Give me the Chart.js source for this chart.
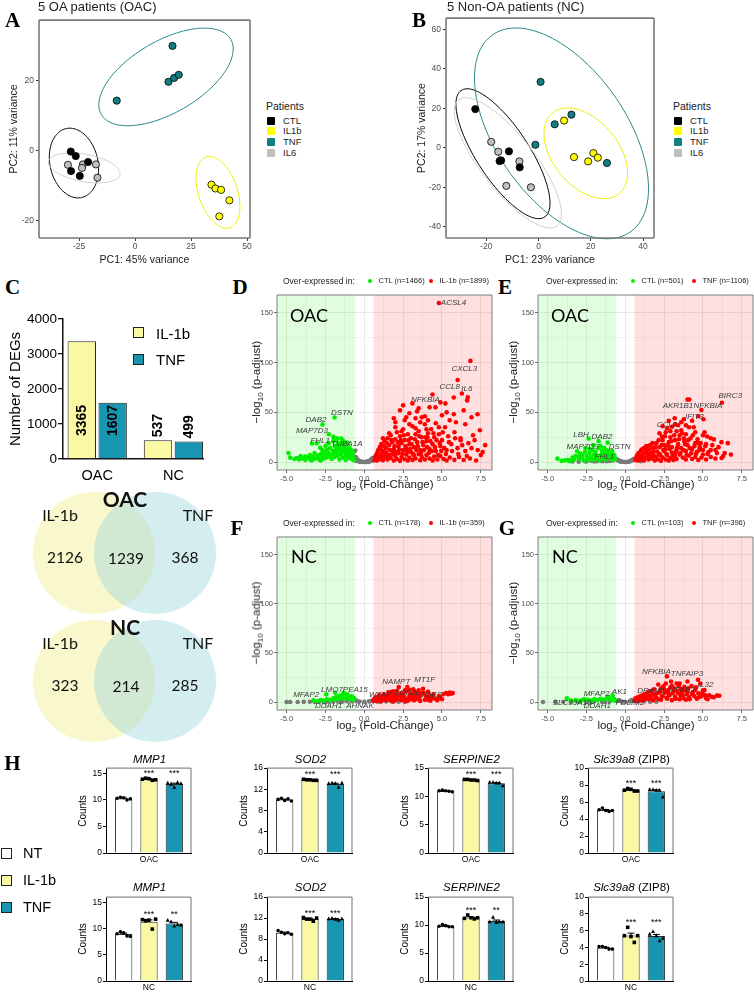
<!DOCTYPE html>
<html>
<head>
<meta charset="utf-8">
<script src="https://cdn.jsdelivr.net/npm/chart.js@4.4.1/dist/chart.umd.min.js"></script>
<style>
body { margin: 0; background: #fff; }
#fig { position: relative; width: 754px; height: 992px; overflow: hidden; font-family: "Liberation Sans", Arial, sans-serif; color: #111; }
#fig canvas { position: absolute; }
.t { position: absolute; white-space: nowrap; line-height: 1; }
.sw { position: absolute; box-sizing: border-box; }
</style>
</head>
<body>
<div id="fig"></div>
<script>
// ---------- data ----------
// PCA (panel A / B)
const pcaGroups = ['CTL', 'IL1b', 'TNF', 'IL6'];
const pcaFill = ['#000000', '#ffff00', '#117f80', '#bfbfbf'];
const pcaLine = ['#000000', '#eeee00', '#2a8a8a', '#cfcfcf'];
const oacCTL = [[-28.7, -0.3], [-26.5, -1.6], [-21, -3.3], [-28.6, -5.9], [-24.7, -7.3]];
const oacIL1b = [[34.1, -9.8], [35.9, -10.9], [38.4, -11.3], [42.1, -14.3], [37.6, -18.9]];
const oacTNF = [[16.7, 30], [-8.2, 14.3], [14.9, 19.7], [17.4, 20.8], [19.5, 21.7]];
const oacIL6 = [[-30, -4.1], [-23.3, -4], [-23.7, -5], [-17.5, -4], [-16.8, -7.8]];
const ncCTL = [[-24.2, 19.6], [-11.3, -1.8], [-14.3, -6.4], [-14.9, -6.7], [-7.2, -9.9]];
const ncIL1b = [[9.8, 13.8], [13.6, -4.7], [21, -2.7], [22.7, -5], [19, -6.9]];
const ncTNF = [[0.8, 33.4], [12.6, 16.8], [6.2, 11.9], [-1.2, 1.5], [26.2, -7.7]];
const ncIL6 = [[-18.1, 3], [-15.4, -2], [-7.3, -6.9], [-12.3, -19.3], [-2.9, -20]];
// ellipses: centre, half width, half height, y-offset at the rightmost point
const oacEllipses = [
  {cx: -27.3, cy: -3.6, hw: 11, hh: 10, tilt: -1.7},
  {cx: 37, cy: -12, hw: 9.8, hh: 10.3, tilt: -4},
  {cx: 13.8, cy: 21.1, hw: 30, hh: 14, tilt: 8},
  {cx: -22.7, cy: -5, hw: 16, hh: 4.3, tilt: -1.6}
];
const ncEllipses = [
  {cx: -13.6, cy: -3, hw: 18, hh: 32.9, tilt: -25},
  {cx: 18.1, cy: -2.8, hw: 16, hh: 23, tilt: -10},
  {cx: 8.8, cy: 7.3, hw: 33.3, hh: 53.4, tilt: -28},
  {cx: -11.7, cy: -7.6, hw: 20.5, hh: 33, tilt: -26}
];

// panel C
const degGroups = ['OAC', 'NC'];
const degIL1b = [3365, 537];
const degTNF = [1607, 499];
const degTicks = [0, 1000, 2000, 3000, 4000];
const vennSets = ['IL-1b', 'TNF'];
const vennOAC = [2126, 1239, 368];
const vennNC = [323, 214, 285];

// volcano plots
const fcCut = 0.585;
const volcXTicks = [-5, -3.75, -2.5, -1.25, 0, 1.25, 2.5, 3.75, 5, 6.25, 7.5];
const volcYTicks = [0, 25, 50, 75, 100, 125, 150];
const nD = [1466, 1899], nE = [501, 1106], nF = [178, 359], nG = [103, 396];

const dGreen = [[-1.91,44.8],[-2.69,37.7],[-2.28,28],[-1.99,25.3],[-3.37,18.6],[-3.06,18.9],[-1.8,22],[-1.48,23.6],[-2.84,14.5],[-4.88,9],[-4.77,4.4],[-4.34,4.1],[-3.91,3.4],[-1.35,21],[-1.1,19.5],[-4.5,3],[-4.2,2.5],[-4,3.8],[-3.8,2.2],[-3.6,4.5],[-3.5,3],[-3.3,5.5],[-3.2,3.2],[-3,6.5],[-3,4],[-2.9,2.4],[-2.8,8],[-2.7,5],[-2.6,10],[-2.6,3.5],[-2.5,7],[-2.4,12],[-2.4,4.5],[-2.3,9],[-2.2,6],[-2.2,14],[-2.1,3.2],[-2,11],[-2,8],[-1.9,16],[-1.9,5],[-1.8,13],[-1.8,9.5],[-1.7,18],[-1.7,6.5],[-1.6,11],[-1.6,15],[-1.5,8],[-1.5,19],[-1.45,13],[-1.4,4.5],[-1.3,10],[-1.3,16],[-1.2,7],[-1.2,13],[-1.1,9],[-1.1,4],[-1,11],[-1,6],[-0.9,8],[-0.9,3.5],[-0.8,6],[-0.75,2.5],[-0.7,4],[-0.65,1.8],[-1.6,2.5],[-2.8,1.5],[-3.4,1.6],[-1.2,2],
  [-2.5,16],[-2.3,19],[-2,21],[-1.75,24],[-1.4,18],[-1,15],[-0.85,12],[-0.7,9],[-3.2,9],[-3.5,7],[-3.8,5.5],[-4.1,6],[-2.7,12],[-1.25,4.5],[-0.95,14]];
const dGray = [[-0.58,11.5],[-0.55,5],[-0.5,3.5],[-0.45,2.5],[-0.4,1.8],[-0.35,1.2],[-0.3,0.8],[-0.25,0.5],[-0.2,0.3],[-0.15,0.2],[-0.1,0.1],[0,0],[0.1,0.1],[0.15,0.2],[0.2,0.4],[0.25,0.6],[0.3,0.9],[0.35,1.3],[0.4,1.9],[0.45,2.6],[0.5,3.4],[0.55,4.2],[-0.52,1],[0.5,1],[-0.3,0.2],[0.3,0.2]];
const dRed = [[0.65,2],[0.7,4.5],[0.8,1.5],[0.9,6],[1,3],[1.1,8],[1.2,1.8],[1.3,5],[1.4,9.5],[1.5,2.5],[1.6,7],[1.7,4],[1.8,11],[1.9,1.5],[2,6],[2.1,3],[2.2,9],[2.3,1.2],[2.4,5],[2.5,12],[2.6,2.8],[2.7,7.5],[2.8,1.5],[2.9,4.5],[3,10],[3.1,2],[3.2,6.5],[3.3,3.5],[3.5,8],[3.6,1.8],[3.7,5],[3.9,2.6],[4,7],[4.2,3.5],[4.4,1.5],[4.5,5.5],[4.7,2.5],[4.9,6],[5.1,3],[5.3,1.5],[5.5,4.5],[5.8,2.2],[6.1,5],[6.4,2],[6.8,3.5],[7.2,1.5],[7.5,7],
  [0.9,12],[1,15],[1.1,18],[1.2,11],[1.3,21],[1.4,14],[1.5,24],[1.6,17],[1.7,27],[1.8,20],[1.9,13],[2,23],[2.1,30],[2.2,16],[2.3,26],[2.4,19],[2.5,33],[2.6,22],[2.7,14],[2.8,28],[2.9,18],[3,24],[3.1,36],[3.2,15],[3.3,28],[3.4,20],[3.5,31],[3.6,12],[3.7,25],[3.8,17],[3.9,38],[4,21],[4.1,29],[4.2,13],[4.3,33],[4.4,18],[4.5,25],[4.6,11],[4.8,28],[4.9,16],[5,22],[5.2,35],[5.3,12],[5.4,26],[5.6,18],[5.8,30],[6,14],[6.2,24],[6.5,11],[6.7,19],[7,27],[7.3,12],
  [0.75,7],[0.85,10],[0.95,2.5],[1.05,13],[1.15,5],[1.25,16],[1.35,7.5],[1.45,19],[1.55,4.5],[1.65,12],[1.75,22],[1.85,8],[1.95,16],[2.05,10],[2.15,20],[2.25,12.5],[2.35,22],[2.45,8.5],[2.55,27],[2.65,16],[2.75,10],[2.85,22],[2.95,13],[3.05,18],[3.15,8],[3.25,23],[3.35,12],[3.45,16],[3.55,26],[3.65,9],[3.75,20],[3.85,12],[3.95,25],[4.05,15],[4.15,9],[4.25,21],[4.35,11],[4.45,29],[4.55,15],[4.65,22],[4.75,7],[4.85,19],[4.95,11],[5.05,30],[5.15,14],[5.25,8],[5.45,20],[5.65,11],[5.85,24],[6.05,8],[6.3,17],[6.6,6],[6.9,14],[7.1,22],[1.2,24],[1.6,29],[2,35],[2.4,31],[2.9,38],[3.3,34],[3.7,45],[4.1,42],[4.6,39],[5.3,50],[5.9,40],[6.4,52],[6.9,45],[2.6,42],[3.5,54],[4.9,60],[4,33],[1.9,44],
  [2.3,52],[2.5,57],[2.9,49],[3.1,59],[3.3,44],[3.4,51],[3.6,40],[3.9,46],[4.2,55],[4.39,67.9],[4.58,55],[4.8,35],[5.22,59],[5.5,42],[5.76,64.9],[5.76,48],[6.01,82.5],[6.28,69],[6.62,62],[6.66,65],[6.83,101.7],[7.29,48],[7.44,32],[7.78,17],[7.62,10],[6.2,21.9],[4.07,25],[4.8,160],[2,40],[2.7,45],[5,47],[6.5,38]];
const dLabels = [['ACSL4',5.74,160],['CXCL3',6.44,94.3],['CCL8',5.5,75.8],['IL6',6.6,74],['NFKBIA',3.93,62.4],['DSTN',-1.44,49.5],['DAB2',-3.11,42.8],['MAP7D3',-3.37,31],['FHL1',-2.84,21.4],['TUBA1A',-1.12,18.1]];

const eGreen = [[-4.37,3.4],[-3.9,1.7],[-3.7,2],[-3.5,1.5],[-3.3,2.5],[-3.1,10.8],[-3.2,6],[-3,3],[-2.9,8.5],[-2.8,4.5],[-2.7,2],[-2.57,14.2],[-2.5,6],[-2.36,23.6],[-2.4,3.5],[-2.3,9],[-2.2,5],[-2.1,12],[-2,2.5],[-2,7.5],[-1.9,10],[-1.8,4],[-1.72,21],[-1.7,14],[-1.6,6.5],[-1.52,7],[-1.5,11],[-1.4,3.5],[-1.36,14.4],[-1.3,8],[-1.2,5],[-1.14,19.5],[-1.1,11],[-1,6.5],[-0.95,3],[-0.9,9],[-0.8,5],[-0.75,2],[-0.7,7],[-0.65,3.5],[-1.7,1.5],[-2.6,1.2],[-3.6,0.8],[-4.1,1.2],
  [-2.8,7],[-2.6,10],[-2.3,13],[-2.05,17],[-1.9,6],[-1.6,16],[-1.45,9],[-1.25,12],[-1.05,8],[-0.85,11],[-0.72,5],[-3.4,4.5],[-3,5.5],[-2.2,2],[-1.3,2.5]];
const eGray = [[-0.58,3],[-0.5,2.2],[-0.45,1.6],[-0.4,1.2],[-0.35,0.9],[-0.3,0.6],[-0.25,0.4],[-0.2,0.3],[-0.1,0.1],[0,0],[0.1,0.1],[0.2,0.3],[0.25,0.5],[0.3,0.8],[0.35,1.1],[0.4,1.5],[0.45,2],[0.5,2.6],[0.55,3.2],[-1,1],[-1.5,0.8],[-2,0.6],[-2.5,0.5],[-3,0.4],[1,0.8],[-0.8,1.5],[-1.2,0.9],[-3.4,0.6],[-2.6,0.8],[-2.2,1.2],[-1.8,0.9],[-1.4,1.1]];
const eRed = [[0.65,2],[0.7,4],[0.8,1.5],[0.9,5.5],[1,2.5],[1.1,7],[1.2,1.5],[1.3,4.5],[1.4,8.5],[1.5,2.5],[1.6,6],[1.7,3.5],[1.8,10],[1.9,1.5],[2,5.5],[2.1,2.5],[2.2,8],[2.3,1.2],[2.4,4.5],[2.5,11],[2.6,2.5],[2.7,7],[2.8,1.5],[2.9,4],[3,9.5],[3.1,2],[3.2,6],[3.3,3],[3.5,7.5],[3.7,4.5],[3.9,2.5],[4.1,6.5],[4.3,3],[4.5,5],[4.7,2],[4.9,4.5],[5.2,2.5],[5.5,5],[5.8,3.5],
  [1,11],[1.2,14],[1.4,12],[1.6,17],[1.8,14],[2,19],[2.2,15],[2.4,22],[2.5,17],[2.6,13],[2.8,20],[2.9,25],[3,15],[3.2,22],[3.3,12],[3.4,18],[3.5,27],[3.6,14],[3.8,21],[3.9,11],[4,17],[4.2,24],[4.3,13],[4.5,19],[4.6,10],[4.8,15],[5,12],[5.2,18],[5.3,8],[5.5,12],[5.7,22.8],[6.19,20],[5.9,9],[6.3,6],
  [0.75,6.5],[0.85,9],[0.95,3],[1.05,12.5],[1.15,5],[1.25,9.5],[1.35,16],[1.45,6],[1.55,13],[1.65,9],[1.75,19],[1.85,6],[1.95,15],[2.05,10.5],[2.15,22],[2.25,7],[2.35,17],[2.45,12],[2.55,26],[2.65,8],[2.75,17],[2.85,13],[2.95,21],[3.05,6],[3.15,27],[3.25,10],[3.35,15],[3.45,23],[3.55,9],[3.65,29],[3.75,12],[3.85,18],[3.95,7],[4.05,22],[4.15,14],[4.25,9],[4.35,27],[4.45,16],[4.55,8],[4.65,23],[4.75,12],[4.85,19],[5,7.5],[5.15,16],[5.35,10],[5.6,17],[5.8,12],[6,15],[6.4,9],[6.6,19],[6.2,4],[2.2,29],[2.7,34],[3.3,31],[3.9,37],[4.4,35],[5,27],[5.5,24],[4.7,46],[3.6,40],[3.2,38],[2.4,36],
  [6.22,59.6],[4.12,62.9],[4,62.9],[4.9,52.3],[5.03,43],[4.3,41.6],[3.77,43],[3.18,44],[2.8,41.6],[3,35.5],[3.6,32],[3.77,24],[2.36,25.7],[6.8,7.5],[4.66,19],[5.27,25.7],[2.6,30],[3.4,37],[4.5,30],[2.9,31],[4.1,35],[5.1,30],[3.9,28]];
const eLabels = [['BIRC3',6.76,66.7],['AKR1B1',3.39,56.6],['NFKBIA',5.32,56.6],['IFIT3',4.44,45.5],['CCL2',2.68,37.5],['LBH',-2.85,27.7],['DAB2',-1.5,25.3],['MAP7D3',-2.75,15.2],['DSTN',-0.36,15.2],['FHL1',-1.35,5]];

const fGreen = [[-2.45,7.9],[-1.87,9.6],[-1.33,9.6],[-1.16,6.9],[-3.27,1.8],[-3,1],[-2.8,2.2],[-2.6,1.5],[-2.4,3],[-2.2,2],[-2,4],[-1.9,2.5],[-1.8,5.5],[-1.7,3],[-1.6,6.5],[-1.5,4],[-1.4,7.5],[-1.3,5],[-1.2,3.5],[-1.1,8],[-1,5.5],[-0.9,3],[-0.8,6],[-0.7,2.5],[-0.65,4]];
const fGray = [[-5,0.2],[-4.77,0.2],[-4.29,0.2],[-3.9,0.3],[-3.5,0.4],[-3.2,0.3],[-2.9,0.5],[-2.6,0.4],[-2.3,0.6],[-2,0.5],[-1.7,0.7],[-1.4,0.6],[-1.1,0.8],[-0.8,0.9],[-0.5,1.2],[-0.3,0.7],[0,0.3],[0.3,0.8],[0.5,1.4],[0.8,1],[1.1,0.8],[1.4,0.7],[1.8,0.5],[2.2,0.4],[2.6,0.3],[-0.55,2],[0.55,2.2],[-2.5,-0.2],[-1.5,0.2],[1,0.2]];
const fRed = [[0.6,1.5],[0.7,3],[0.8,1],[0.9,4],[1,2],[1.03,6],[1.1,1.2],[1.2,3.5],[1.3,5],[1.4,2],[1.5,7],[1.6,3],[1.7,1.5],[1.8,5],[1.9,8],[2,2.5],[2.1,4.5],[2.22,15.3],[2.3,6.5],[2.4,2],[2.5,9],[2.6,4],[2.62,12],[2.77,15.3],[2.8,1.5],[2.9,6],[3,3],[3.1,8],[3.2,2],[3.3,5],[3.4,10],[3.5,3.5],[3.6,7],[3.78,13.6],[3.82,9.3],[3.9,2.5],[4,5.5],[4.06,2.6],[4.2,7],[4.3,3.5],[4.45,8],[4.7,2],[4.9,4.5],[5.1,8],[5.27,9.3],[5.5,9.8],[3.2,11],[2.9,12.5],[1.7,10],[2.1,11.5],[3.5,12],[4.1,10.5],
  [0.65,3.5],[0.75,5],[0.85,2.5],[0.95,7],[1.15,4],[1.25,8],[1.35,3],[1.45,5.5],[1.55,10],[1.65,6],[1.75,3.5],[1.85,11],[1.95,5.5],[2.05,7.5],[2.15,3],[2.35,9],[2.45,4.5],[2.55,6],[2.7,11],[2.85,3.5],[2.95,8.5],[3.05,5],[3.15,13],[3.25,7],[3.35,3],[3.45,7.5],[3.55,5],[3.7,9],[3.95,6.5],[4.15,4],[4.35,6],[4.55,3.5],[4.8,6],[5,3],[5.6,8.5],[5.7,9.3],[5.4,8],[4.25,1.5],[3.6,1.2],[2.7,1],[1.9,0.8]];
const fLabels = [['NAMPT',2.06,20.4],['MT1F',3.89,22.9],['MFAP2',-3.74,7.9],['LMO7',-2.08,12.6],['PEA15',-0.58,12.6],['DDAH1',-2.3,-3.4],['AHNAK',-0.28,-3.4],['WTAP',1.03,7.9],['SOD2',2.62,9.6],['PTGES',4.14,7.9]];

const gGreen = [[-0.82,6.8],[-1.1,5.5],[-2.65,2.8],[-3.76,3.8],[-3.5,1.5],[-3.2,2.2],[-3,1],[-2.8,1.8],[-2.4,2.5],[-2.2,1.5],[-2,3],[-1.8,2],[-1.6,3.5],[-1.4,2.5],[-1.2,4],[-1,3],[-0.9,2],[-0.7,3.2],[-0.65,1.5]];
const gGray = [[-5.3,0.2],[-4.5,0.3],[-4,0.4],[-3.5,0.3],[-3,0.5],[-2.5,0.4],[-2,0.6],[-1.5,0.5],[-1,0.8],[-0.5,1.2],[-0.2,0.5],[0,0.3],[0.3,0.8],[0.5,1.5],[0.8,0.9],[1.2,0.6],[1.6,0.5],[2,0.4],[-0.4,2],[0.4,2.2],[-2.2,-0.2],[-1.3,0.2]];
const gRed = [[0.6,1.5],[0.7,3],[0.8,5],[0.9,1.5],[1,4],[1.1,7],[1.2,2.5],[1.3,5.5],[1.4,9],[1.5,3],[1.6,6.5],[1.67,11],[1.8,2],[1.9,8],[2,4.5],[2.12,17.9],[2.2,10],[2.3,2.5],[2.4,6],[2.5,13],[2.61,18.9],[2.68,26.2],[2.7,3.5],[2.8,8.5],[2.9,15],[3,2],[3.1,11],[3.2,5.5],[3.3,18.9],[3.4,9],[3.5,3],[3.6,13],[3.7,6.5],[3.8,15.5],[3.9,2.5],[4,10],[4.1,5],[4.26,16.3],[4.3,8],[4.5,12.5],[4.6,3.5],[4.68,22.8],[4.7,9],[4.83,18.8],[4.9,6],[5,12],[5.09,12.2],[5.2,4],[5.4,7],[5.57,5.4],[5.9,6.8],[3.5,19],[2.3,14],[4,21],[3,16.5],
  [0.65,4],[0.75,1.5],[0.85,3],[0.95,6],[1.05,2],[1.15,4.5],[1.25,8],[1.35,3.5],[1.45,6],[1.55,11],[1.65,4],[1.75,7.5],[1.85,13],[1.95,5.5],[2.05,9],[2.15,3],[2.25,12],[2.35,6.5],[2.45,16],[2.55,9.5],[2.65,4.5],[2.75,12],[2.85,7],[2.95,21],[3.05,9],[3.15,14],[3.25,3.5],[3.35,11],[3.45,16],[3.55,7],[3.65,10],[3.75,4],[3.85,12],[3.95,8],[4.05,14],[4.15,3],[4.35,10],[4.45,6],[4.55,15],[4.75,5],[4.95,9],[5.15,7],[5.3,3],[5.7,5],[6.05,6.5]];
const gLabels = [['NFKBIA',2,30.6],['TNFAIP3',3.97,28.9],['IL32',5.17,18],['DRAM1',1.67,11.2],['NFKB2',3.65,12.6],['MFAP2',-1.84,8.6],['AK1',-0.38,10.2],['SLC39A10',-3.43,-1],['DDAH1',-1.8,-4],['PDLIM2',0.3,-0.5]];

// panel H: 5 patients per condition (NT, IL-1b, TNF)
const hGroups = ['NT', 'IL-1b', 'TNF'];
const hColors = ['#ffffff', '#fbf8a4', '#1896b1'];
const mmp1OAC = [[10.3, 10.5, 10.4, 10.0, 10.2], [13.9, 14.1, 14.0, 13.7, 13.8], [13.2, 13.0, 12.4, 13.3, 13.1]];
const sod2OAC = [[10.1, 10.3, 9.9, 10.2, 9.8], [13.9, 13.8, 13.8, 13.7, 13.7], [13.1, 13.2, 13.1, 12.4, 13.2]];
const serpine2OAC = [[11.0, 11.1, 11.0, 10.9, 10.8], [13.0, 13.0, 12.9, 12.9, 12.8], [12.5, 12.5, 12.4, 12.4, 11.9]];
const slc39a8OAC = [[5.1, 5.3, 5.0, 4.9, 5.0], [7.4, 7.6, 7.5, 7.3, 7.3], [7.5, 7.5, 7.4, 7.4, 6.6]];
const mmp1NC = [[9.0, 9.4, 9.2, 8.6, 8.5], [11.7, 11.5, 11.6, 9.9, 11.8], [11.6, 11.3, 10.5, 10.8, 10.7]];
const sod2NC = [[9.6, 9.3, 9.0, 9.2, 8.9], [12.1, 11.8, 11.8, 11.4, 12.0], [11.9, 12.0, 11.8, 11.6, 11.9]];
const serpine2NC = [[9.8, 10.1, 9.9, 9.7, 9.7], [11.2, 11.8, 11.3, 11.1, 11.3], [10.6, 11.4, 10.5, 10.6, 10.6]];
const slc39a8NC = [[4.1, 4.1, 4.0, 3.8, 3.8], [5.4, 6.4, 5.3, 4.6, 5.4], [5.6, 5.9, 5.4, 4.8, 5.1]];
const sigOAC = ['', '***', '***'];
const sigMmp1NC = ['', '***', '**'];
const sigSod2NC = ['', '***', '***'];
const sigSerpine2NC = ['', '***', '**'];
const sigSlc39a8NC = ['', '***', '***'];

// ---------- helpers ----------
const SANS = '"Liberation Sans", Arial, sans-serif';
Chart.defaults.font.family = SANS;
Chart.defaults.animation = false;
Chart.defaults.responsive = false;
Chart.defaults.events = [];
Chart.defaults.layout.autoPadding = false;
Chart.defaults.plugins.legend.display = false;
Chart.defaults.plugins.tooltip.enabled = false;

const fig = document.getElementById('fig');

function canvasAt(box, m) {
  const c = document.createElement('canvas');
  const w = box.r - box.l + m.l + m.r, h = box.b - box.t + m.t + m.b;
  c.width = w; c.height = h;
  c.style.left = (box.l - m.l) + 'px';
  c.style.top = (box.t - m.t) + 'px';
  c.style.width = w + 'px';
  c.style.height = h + 'px';
  fig.appendChild(c);
  return c;
}

function txt(html, x, y, css, mode) {
  const d = document.createElement('div');
  d.className = 't';
  d.innerHTML = html;
  if (css) d.style.cssText = css;
  d.style.left = x + 'px';
  d.style.top = y + 'px';
  const tf = {c: 'translate(-50%,-50%)', l: 'translate(0,-50%)', r: 'translate(-100%,-50%)', v: 'translate(-50%,-50%) rotate(-90deg)'};
  d.style.transform = tf[mode || 'c'];
  fig.appendChild(d);
  return d;
}

function swatch(x, y, w, h, fill, border, round) {
  const d = document.createElement('div');
  d.className = 'sw';
  d.style.cssText = `left:${x}px;top:${y}px;width:${w}px;height:${h}px;background:${fill};border:${border};border-radius:${round || 0}`;
  fig.appendChild(d);
}

const toXY = arr => arr.map(p => ({x: p[0], y: p[1]}));

function frame(color, width, sides) {
  return {
    id: 'frame',
    afterDatasetsDraw(chart) {
      const a = chart.chartArea, ctx = chart.ctx;
      ctx.save();
      ctx.strokeStyle = color; ctx.lineWidth = width;
      ctx.beginPath();
      if (sides.includes('t')) { ctx.moveTo(a.left, a.top); ctx.lineTo(a.right, a.top); }
      if (sides.includes('r')) { ctx.moveTo(a.right, a.top); ctx.lineTo(a.right, a.bottom); }
      if (sides.includes('b')) { ctx.moveTo(a.left, a.bottom); ctx.lineTo(a.right, a.bottom); }
      if (sides.includes('l')) { ctx.moveTo(a.left, a.top); ctx.lineTo(a.left, a.bottom); }
      ctx.stroke();
      ctx.restore();
    }
  };
}

function ellipsePlugin(list) {
  return {
    id: 'ellipses',
    beforeDatasetsDraw(chart) {
      const xs = chart.scales.x, ys = chart.scales.y, ctx = chart.ctx;
      ctx.save();
      ctx.lineWidth = 1;
      list.forEach((e, i) => {
        const s = Math.sqrt(e.hh * e.hh - e.tilt * e.tilt);
        ctx.strokeStyle = pcaLine[i];
        ctx.beginPath();
        for (let k = 0; k <= 120; k++) {
          const t = k / 120 * 2 * Math.PI;
          const px = xs.getPixelForValue(e.cx + e.hw * Math.cos(t));
          const py = ys.getPixelForValue(e.cy + e.tilt * Math.cos(t) + s * Math.sin(t));
          if (k === 0) ctx.moveTo(px, py); else ctx.lineTo(px, py);
        }
        ctx.stroke();
      });
      ctx.restore();
    }
  };
}

// ---------- A / B : PCA ----------
function pcaChart(box, groups, ellipses, xr, yr, xt, yt) {
  const m = {l: 30, t: 6, r: 10, b: 16};
  const c = canvasAt(box, m);
  new Chart(c, {
    type: 'scatter',
    data: {
      datasets: groups.map((g, i) => ({
        label: pcaGroups[i], data: toXY(g),
        backgroundColor: pcaFill[i], borderColor: '#000', borderWidth: 0.8, pointRadius: 3.6
      }))
    },
    options: {
      layout: {padding: {top: m.t, right: m.r, left: 0, bottom: 0}},
      scales: {
        x: {
          type: 'linear', min: xr[0], max: xr[1],
          afterFit: s => { s.height = m.b; },
          afterBuildTicks: s => { s.ticks = xt.map(v => ({value: v})); },
          ticks: {font: {size: 8.5}, color: '#4d4d4d', padding: 1, maxRotation: 0, autoSkip: false, callback: v => String(v)},
          grid: {drawOnChartArea: false, tickLength: 3, color: '#333'},
          border: {display: false}
        },
        y: {
          type: 'linear', min: yr[0], max: yr[1],
          afterFit: s => { s.width = m.l; },
          afterBuildTicks: s => { s.ticks = yt.map(v => ({value: v})); },
          ticks: {font: {size: 8.5}, color: '#4d4d4d', padding: 2, autoSkip: false, callback: v => String(v)},
          grid: {drawOnChartArea: false, tickLength: 3, color: '#333'},
          border: {display: false}
        }
      }
    },
    plugins: [ellipsePlugin(ellipses), frame('#7a7a7a', 1.6, 'tlrb')]
  });
}

pcaChart({l: 39, t: 19, r: 250, b: 238}, [oacCTL, oacIL1b, oacTNF, oacIL6], oacEllipses,
  [-42.9, 51.3], [-25.1, 37.4], [-25, 0, 25, 50], [-20, 0, 20]);
pcaChart({l: 446, t: 17, r: 654, b: 238}, [ncCTL, ncIL1b, ncTNF, ncIL6], ncEllipses,
  [-35.4, 44.2], [-45.7, 65.7], [-20, 0, 20, 40], [-40, -20, 0, 20, 40, 60]);

// ---------- C : bar chart ----------
(function () {
  const box = {l: 63, t: 318, r: 203, b: 459};
  const m = {l: 50, t: 8, r: 6, b: 26};
  const c = canvasAt(box, m);
  const barLabels = {
    id: 'barLabels',
    afterDatasetsDraw(chart) {
      const ctx = chart.ctx, ys = chart.scales.y;
      ctx.save();
      ctx.font = 'bold 14px ' + SANS;
      ctx.fillStyle = '#000';
      ctx.textBaseline = 'middle';
      chart.data.datasets.forEach((ds, i) => {
        chart.getDatasetMeta(i).data.forEach((el, j) => {
          const v = ds.data[j].y;
          ctx.save();
          if (v > 1000) {
            ctx.translate(el.x, ys.getPixelForValue(1100));
            ctx.rotate(-Math.PI / 2);
            ctx.textAlign = 'center';
          } else {
            ctx.translate(el.x, el.y - 3);
            ctx.rotate(-Math.PI / 2);
            ctx.textAlign = 'left';
          }
          ctx.fillText(String(v), 0, 0);
          ctx.restore();
        });
      });
      ctx.restore();
    }
  };
  new Chart(c, {
    type: 'bar',
    data: {
      datasets: [
        {label: 'IL-1b', data: degIL1b.map((v, i) => ({x: i, y: v})), backgroundColor: '#fbf8a4', borderColor: '#222', borderWidth: 1, categoryPercentage: 0.81, barPercentage: 0.92},
        {label: 'TNF', data: degTNF.map((v, i) => ({x: i, y: v})), backgroundColor: '#1896b1', borderColor: '#222', borderWidth: 1, categoryPercentage: 0.81, barPercentage: 0.92}
      ]
    },
    options: {
      layout: {padding: {top: m.t, right: m.r, left: 0, bottom: 0}},
      scales: {
        x: {
          type: 'linear', min: -0.449, max: 1.388, offset: false,
          afterFit: s => { s.height = m.b; },
          afterBuildTicks: s => { s.ticks = degGroups.map((g, i) => ({value: i})); },
          ticks: {font: {size: 14.5}, color: '#000', padding: 8, maxRotation: 0, autoSkip: false, callback: v => degGroups[v]},
          grid: {display: false, drawTicks: false},
          border: {color: '#111', width: 1.5}
        },
        y: {
          min: 0, max: 4000,
          afterFit: s => { s.width = m.l; },
          afterBuildTicks: s => { s.ticks = degTicks.map(v => ({value: v})); },
          ticks: {font: {size: 13.5}, color: '#000', padding: 1, callback: v => String(v)},
          grid: {drawOnChartArea: false, tickLength: 5, color: '#111', lineWidth: 1.3},
          border: {color: '#111', width: 1.5}
        }
      }
    },
    plugins: [barLabels]
  });
})();

// ---------- C : Venn diagrams ----------
(function () {
  const box = {l: 0, t: 470, r: 240, b: 760};
  const c = canvasAt(box, {l: 0, t: 0, r: 0, b: 0});
  new Chart(c, {
    type: 'scatter',
    data: {
      datasets: [
        {label: vennSets[1], data: [{x: 1, y: 1}, {x: 1, y: 0}], pointRadius: 61, backgroundColor: 'rgba(160,215,220,0.45)', borderWidth: 0, order: 0},
        {label: vennSets[0], data: [{x: 0, y: 1}, {x: 0, y: 0}], pointRadius: 61, backgroundColor: '#f9f7cc', borderWidth: 0, order: 1}
      ]
    },
    options: {
      layout: {padding: 0},
      scales: {
        x: {type: 'linear', min: -1.541, max: 2.393, display: false},
        y: {type: 'linear', min: -0.617, max: 1.648, display: false}
      }
    }
  });
})();

// ---------- D-G : volcano plots ----------
const shade = {
  id: 'shade',
  beforeDatasetsDraw(chart) {
    const xs = chart.scales.x, a = chart.chartArea, ctx = chart.ctx;
    ctx.save();
    const g = xs.getPixelForValue(-fcCut), r = xs.getPixelForValue(fcCut);
    ctx.fillStyle = 'rgba(0,235,0,0.12)';
    ctx.fillRect(a.left, a.top, g - a.left, a.bottom - a.top);
    ctx.fillStyle = 'rgba(255,0,0,0.12)';
    ctx.fillRect(r, a.top, a.right - r, a.bottom - a.top);
    ctx.restore();
  }
};

function geneLabels(list) {
  return {
    id: 'geneLabels',
    afterDatasetsDraw(chart) {
      const xs = chart.scales.x, ys = chart.scales.y, ctx = chart.ctx;
      ctx.save();
      ctx.font = 'italic 8px ' + SANS;
      ctx.fillStyle = '#3a3a3a';
      ctx.textAlign = 'center';
      ctx.textBaseline = 'middle';
      list.forEach(l => ctx.fillText(l[0], xs.getPixelForValue(l[1]), ys.getPixelForValue(l[2])));
      ctx.restore();
    }
  };
}

function volcano(box, green, gray, red, labels) {
  const m = {l: 24, t: 8, r: 4, b: 14};
  const c = canvasAt(box, m);
  const major = (v, step) => Math.abs(v / step - Math.round(v / step)) < 1e-6;
  new Chart(c, {
    type: 'scatter',
    data: {
      datasets: [
        {label: 'up', data: toXY(red), backgroundColor: '#ff0000', pointRadius: 2.3, borderWidth: 0, order: 0},
        {label: 'down', data: toXY(green), backgroundColor: '#00ee00', pointRadius: 2.3, borderWidth: 0, order: 1},
        {label: 'ns', data: toXY(gray), backgroundColor: '#7a7a7a', pointRadius: 2.3, borderWidth: 0, order: 2}
      ]
    },
    options: {
      layout: {padding: {top: m.t, right: m.r, left: 0, bottom: 0}},
      scales: {
        x: {
          type: 'linear', min: -5.62, max: 8.22,
          afterFit: s => { s.height = m.b; },
          afterBuildTicks: s => { s.ticks = volcXTicks.map(v => ({value: v})); },
          ticks: {font: {size: 7.5}, color: '#4d4d4d', padding: 1, maxRotation: 0, autoSkip: false,
            callback: v => major(v, 2.5) ? v.toFixed(1) : ''},
          grid: {
            color: ctx => ctx.tick && major(ctx.tick.value, 2.5) ? '#e4e4e4' : '#f1f1f1',
            tickColor: ctx => ctx.tick && major(ctx.tick.value, 2.5) ? '#444' : 'rgba(0,0,0,0)',
            tickLength: 3, lineWidth: 0.8
          },
          border: {display: false}
        },
        y: {
          type: 'linear', min: -8, max: 168,
          afterFit: s => { s.width = m.l; },
          afterBuildTicks: s => { s.ticks = volcYTicks.map(v => ({value: v})); },
          ticks: {font: {size: 7.5}, color: '#4d4d4d', padding: 1, autoSkip: false,
            callback: v => major(v, 50) ? String(v) : ''},
          grid: {
            color: ctx => ctx.tick && major(ctx.tick.value, 50) ? '#e4e4e4' : '#f1f1f1',
            tickColor: ctx => ctx.tick && major(ctx.tick.value, 50) ? '#444' : 'rgba(0,0,0,0)',
            tickLength: 3, lineWidth: 0.8
          },
          border: {display: false}
        }
      }
    },
    plugins: [shade, geneLabels(labels), frame('#7f7f7f', 1, 'tlrb')]
  });
}

volcano({l: 277, t: 295, r: 492, b: 470}, dGreen, dGray, dRed, dLabels);
volcano({l: 538, t: 295, r: 753, b: 470}, eGreen, eGray, eRed, eLabels);
volcano({l: 277, t: 537, r: 492, b: 710}, fGreen, fGray, fRed, fLabels);
volcano({l: 538, t: 537, r: 753, b: 710}, gGreen, gGray, gRed, gLabels);

// ---------- H : counts bar charts ----------
function drawShape(ctx, kind, x, y, r) {
  ctx.beginPath();
  if (kind === 0) ctx.arc(x, y, r, 0, 2 * Math.PI);
  else if (kind === 1) ctx.rect(x - r, y - r, 2 * r, 2 * r);
  else { ctx.moveTo(x, y - r * 1.2); ctx.lineTo(x + r * 1.1, y + r * 0.9); ctx.lineTo(x - r * 1.1, y + r * 0.9); ctx.closePath(); }
  ctx.fill();
}

function dotsPlugin(dots, means, sems, sig) {
  return {
    id: 'dots',
    afterDatasetsDraw(chart) {
      const xs = chart.scales.x, ys = chart.scales.y, ctx = chart.ctx;
      ctx.save();
      ctx.fillStyle = '#000'; ctx.strokeStyle = '#000'; ctx.lineWidth = 1;
      let top = 0;
      dots.forEach((d, i) => {
        const cx = xs.getPixelForValue(i);
        const y0 = ys.getPixelForValue(means[i]), y1 = ys.getPixelForValue(means[i] + sems[i]);
        ctx.beginPath();
        ctx.moveTo(cx, y0); ctx.lineTo(cx, y1);
        ctx.moveTo(cx - 3.5, y1); ctx.lineTo(cx + 3.5, y1);
        ctx.stroke();
        d.forEach((v, j) => drawShape(ctx, i, cx + (j - 2) * 3.3, ys.getPixelForValue(v), 1.8));
        if (i > 0) top = Math.max(top, ...d, means[i] + sems[i]);
      });
      ctx.font = '9px ' + SANS;
      ctx.textAlign = 'center';
      ctx.textBaseline = 'alphabetic';
      const sy = ys.getPixelForValue(top) - 2;
      sig.forEach((s, i) => { if (s) ctx.fillText(s, xs.getPixelForValue(i), sy); });
      ctx.restore();
    }
  };
}

function hChart(box, dots, sig, yMax, yTicks, group) {
  const m = {l: 20, t: 6, r: 4, b: 14};
  const c = canvasAt(box, m);
  const means = dots.map(d => d.reduce((s, v) => s + v, 0) / d.length);
  const sems = dots.map((d, i) => Math.sqrt(d.reduce((s, v) => s + (v - means[i]) ** 2, 0) / (d.length - 1) / d.length));
  new Chart(c, {
    type: 'bar',
    data: {
      datasets: [{
        data: means.map((v, i) => ({x: i, y: v})),
        backgroundColor: hColors, borderColor: '#2b2b2b', borderWidth: 1,
        categoryPercentage: 0.75, barPercentage: 0.91
      }]
    },
    options: {
      layout: {padding: {top: m.t, right: m.r, left: 0, bottom: 0}},
      scales: {
        x: {
          type: 'linear', min: -0.7, max: 2.66, offset: false,
          afterFit: s => { s.height = m.b; },
          afterBuildTicks: s => { s.ticks = [{value: 1}]; },
          ticks: {font: {size: 8.5}, color: '#000', padding: 2, maxRotation: 0, callback: () => group},
          grid: {display: false, drawTicks: false},
          border: {color: '#000', width: 1}
        },
        y: {
          min: 0, max: yMax,
          afterFit: s => { s.width = m.l; },
          afterBuildTicks: s => { s.ticks = yTicks.map(v => ({value: v})); },
          ticks: {font: {size: 8.5}, color: '#000', padding: 1, callback: v => String(v)},
          grid: {drawOnChartArea: false, tickLength: 3, color: '#000'},
          border: {color: '#000', width: 1}
        }
      }
    },
    plugins: [frame('#8a8a8a', 1.2, 'tr'), dotsPlugin(dots, means, sems, sig)]
  });
}

const colsH = [[106, 191], [267, 352], [428, 513], [588, 673]];
const rowOAC = [768, 853], rowNC = [897, 981];
const ticks16 = [0, 5, 10, 15], ticksSod = [0, 4, 8, 12, 16], ticks10 = [0, 2, 4, 6, 8, 10];
hChart({l: colsH[0][0], r: colsH[0][1], t: rowOAC[0], b: rowOAC[1]}, mmp1OAC, sigOAC, 16, ticks16, 'OAC');
hChart({l: colsH[1][0], r: colsH[1][1], t: rowOAC[0], b: rowOAC[1]}, sod2OAC, sigOAC, 16, ticksSod, 'OAC');
hChart({l: colsH[2][0], r: colsH[2][1], t: rowOAC[0], b: rowOAC[1]}, serpine2OAC, sigOAC, 15, ticks16, 'OAC');
hChart({l: colsH[3][0], r: colsH[3][1], t: rowOAC[0], b: rowOAC[1]}, slc39a8OAC, sigOAC, 10, ticks10, 'OAC');
hChart({l: colsH[0][0], r: colsH[0][1], t: rowNC[0], b: rowNC[1]}, mmp1NC, sigMmp1NC, 16, ticks16, 'NC');
hChart({l: colsH[1][0], r: colsH[1][1], t: rowNC[0], b: rowNC[1]}, sod2NC, sigSod2NC, 16, ticksSod, 'NC');
hChart({l: colsH[2][0], r: colsH[2][1], t: rowNC[0], b: rowNC[1]}, serpine2NC, sigSerpine2NC, 15, ticks16, 'NC');
hChart({l: colsH[3][0], r: colsH[3][1], t: rowNC[0], b: rowNC[1]}, slc39a8NC, sigSlc39a8NC, 10, ticks10, 'NC');

// ---------- text ----------
const LET = 'font-family:"Liberation Serif","Times New Roman",serif;font-weight:bold;font-size:21px;color:#000';
txt('A', 12.5, 20, LET); txt('B', 419, 20, LET); txt('C', 12.5, 287, LET);
txt('D', 240, 287, LET); txt('E', 505, 287, LET); txt('F', 237, 528, LET);
txt('G', 507, 528, LET); txt('H', 12.5, 763, LET);

// A / B titles, axes, legends
txt('5 OA patients (OAC)', 38, 6, 'font-size:13px;color:#222', 'l');
txt('5 Non-OA patients (NC)', 447, 6, 'font-size:13px;color:#222', 'l');
txt('PC2: 11% variance', 13, 128.5, 'font-size:10.5px;color:#222', 'v');
txt('PC1: 45% variance', 144.5, 259, 'font-size:10.5px;color:#222');
txt('PC2: 17% variance', 421, 128, 'font-size:10.5px;color:#222', 'v');
txt('PC1: 23% variance', 550, 259, 'font-size:10.5px;color:#222');
[[266, 106], [673, 106]].forEach(([lx, ly]) => {
  txt('Patients', lx, ly, 'font-size:10.5px;color:#222', 'l');
  pcaGroups.forEach((g, i) => {
    const yy = ly + 14.5 + i * 10.7;
    swatch(lx + 1, yy - 4, 8, 8, pcaFill[i], 'none', '1px');
    txt(g, lx + 17, yy, 'font-size:9.5px;color:#222', 'l');
  });
});

// C
txt('Number of DEGs', 13.5, 388.5, 'font-size:15px;color:#000', 'v');
swatch(133, 327, 11, 11, '#fbf8a4', '1px solid #222');
txt('IL-1b', 156, 332.5, 'font-size:15px;color:#000', 'l');
swatch(133, 354, 11, 11, '#1896b1', '1px solid #222');
txt('TNF', 156, 359, 'font-size:15px;color:#000', 'l');
const VENN = 'font-family:Lato,"Open Sans",sans-serif;color:#111;';
[[553, 'OAC', vennOAC], [681, 'NC', vennNC]].forEach(([cy, name, nums]) => {
  txt(name, 125, cy - 55, VENN + 'font-size:21px;font-weight:bold');
  txt(vennSets[0], 60, cy - 38, VENN + 'font-size:16px');
  txt(vennSets[1], 198, cy - 38, VENN + 'font-size:16px');
  txt(String(nums[0]), 65, cy + 5, VENN + 'font-size:15.5px');
  txt(String(nums[1]), 126, cy + 6, VENN + 'font-size:15.5px');
  txt(String(nums[2]), 185, cy + 5, VENN + 'font-size:15.5px');
});

// volcano texts
const legV = [[283, 281, ['CTL', 'IL-1b'], nD], [546, 281, ['CTL', 'TNF'], nE], [283, 523, ['CTL', 'IL-1b'], nF], [546, 523, ['CTL', 'TNF'], nG]];
legV.forEach(([lx, ly, names, n]) => {
  txt('Over-expressed in:', lx, ly, 'font-size:8.5px;color:#222', 'l');
  swatch(lx + 84.5, ly - 2, 4, 4, '#00ee00', 'none', '50%');
  txt(`${names[0]} (n=${n[0]})`, lx + 95.5, ly, 'font-size:7.5px;color:#222', 'l');
  swatch(lx + 145.5, ly - 2, 4, 4, '#ff0000', 'none', '50%');
  txt(`${names[1]} (n=${n[1]})`, lx + 156.5, ly, 'font-size:7.5px;color:#222', 'l');
});
const CAL = 'font-family:Lato,"Open Sans",sans-serif;font-size:18px;color:#000';
txt('OAC', 290, 315, CAL, 'l'); txt('OAC', 551, 315, CAL, 'l');
txt('NC', 291, 556, CAL, 'l'); txt('NC', 552, 556, CAL, 'l');
const YT = '&minus;log<sub style="font-size:70%">10</sub> (p-adjust)';
const XT = 'log<sub style="font-size:70%">2</sub> (Fold-Change)';
[[258, 382], [515, 382], [258, 623], [515, 623]].forEach(([x, y]) => txt(YT, x, y, 'font-size:11.5px;color:#222', 'v'));
[[385, 486], [646, 486], [385, 727], [646, 727]].forEach(([x, y]) => txt(XT, x, y, 'font-size:11.5px;color:#222'));

// H titles and legend
const hTitles = ['<i>MMP1</i>', '<i>SOD2</i>', '<i>SERPINE2</i>', '<i>Slc39a8</i> (ZIP8)'];
[[760, rowOAC], [888, rowNC]].forEach(([ty, row]) => {
  colsH.forEach((cx, i) => {
    txt(hTitles[i], (cx[0] + cx[1]) / 2 + 1, ty, 'font-size:11.5px;color:#000');
    txt('Counts', cx[0] - 23, (row[0] + row[1]) / 2, 'font-size:10px;color:#000', 'v');
  });
});
hGroups.forEach((g, i) => {
  const yy = 853 + i * 27;
  swatch(1, yy - 5.5, 11, 11, hColors[i], '1px solid #222');
  txt(g, 23, yy, 'font-size:14.5px;color:#000', 'l');
});
</script>
</body>
</html>
